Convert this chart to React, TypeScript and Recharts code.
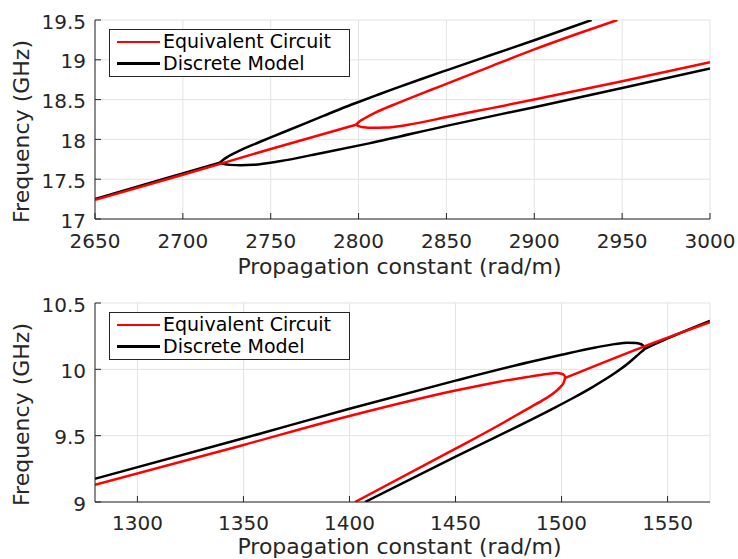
import {
  CartesianGrid,
  Label,
  Legend,
  Line,
  LineChart,
  XAxis,
  YAxis,
} from "recharts";

type Pt = [number, number];

const RED = "#ff0000";
const BLACK = "#000000";
const INK = "#262626";
const GRID = "#e3e3e3";
const FONT = "'DejaVu Sans', 'Liberation Sans', Arial, sans-serif";

// top panel: higher band
const topXTicks = [2650, 2700, 2750, 2800, 2850, 2900, 2950, 3000];
const topYTicks = [17, 17.5, 18, 18.5, 19, 19.5];

const topBlackTrunk: Pt[] = [[2650, 17.25], [2690, 17.51], [2721, 17.707]];
const topBlackUpper: Pt[] = [
  [2721, 17.707], [2723, 17.745], [2726, 17.788], [2730, 17.835], [2735, 17.888],
  [2742, 17.952], [2750, 18.025], [2760, 18.115], [2770, 18.205], [2780, 18.295],
  [2790, 18.385], [2800, 18.47], [2810, 18.553], [2820, 18.635], [2835, 18.753],
  [2850, 18.868], [2875, 19.057], [2900, 19.245], [2932.6, 19.5],
];
const topBlackLower: Pt[] = [
  [2721, 17.707], [2723.5, 17.69], [2727, 17.68], [2733, 17.675], [2740, 17.68],
  [2755, 17.725], [2777, 17.82], [2806, 17.95], [2850, 18.17], [2900, 18.405],
  [2950, 18.645], [3000, 18.89],
];
const topRedTrunk: Pt[] = [[2650, 17.24], [2700, 17.555], [2750, 17.88], [2798.5, 18.185]];
const topRedUpper: Pt[] = [
  [2798.5, 18.185], [2800.5, 18.225], [2803, 18.26], [2808.4, 18.325], [2815, 18.39],
  [2821.6, 18.45], [2830, 18.525], [2840.6, 18.617], [2850, 18.698], [2875, 18.915],
  [2900, 19.13], [2925, 19.33], [2947.3, 19.5],
];
const topRedLower: Pt[] = [
  [2798.5, 18.185], [2800.5, 18.163], [2803, 18.152], [2808, 18.145], [2815, 18.148],
  [2831, 18.195], [2851, 18.285], [2875, 18.39], [2900, 18.5], [2950, 18.73],
  [3000, 18.97],
];

// bottom panel: lower band
const botXTicks = [1300, 1350, 1400, 1450, 1500, 1550];
const botYTicks = [9, 9.5, 10, 10.5];

const botBlackUpper: Pt[] = [
  [1280, 9.175], [1350, 9.48], [1400, 9.703], [1450, 9.915], [1485, 10.055],
  [1500, 10.11], [1516, 10.165], [1525, 10.19], [1531, 10.201], [1535, 10.199],
  [1537, 10.192], [1538.4, 10.18], [1539.1, 10.168], [1539.3, 10.155],
];
const botBlackLower: Pt[] = [
  [1407.3, 9.0], [1449.8, 9.34], [1494.6, 9.693], [1505, 9.78], [1515, 9.87],
  [1525, 9.97], [1531, 10.04], [1535, 10.095], [1537.8, 10.133], [1539.3, 10.155],
];
const botBlackTrunk: Pt[] = [[1539.3, 10.155], [1550, 10.233], [1570, 10.365]];
const botRedUpper: Pt[] = [
  [1280, 9.13], [1350, 9.43], [1400, 9.648], [1450, 9.84], [1470, 9.905],
  [1485, 9.945], [1493, 9.965], [1497.5, 9.972], [1500, 9.967], [1501.3, 9.955],
  [1501.7, 9.935],
];
const botRedLower: Pt[] = [
  [1402.6, 9.0], [1449.8, 9.4], [1470, 9.575], [1485, 9.712], [1492, 9.775],
  [1496.5, 9.823], [1499.5, 9.868], [1501, 9.9], [1501.7, 9.935],
];
const botRedTrunk: Pt[] = [[1501.7, 9.935], [1537, 10.16], [1570, 10.355]];

const toRows = (pts: Pt[]) => pts.map(([x, y]) => ({ x, y }));

function XTick({ x, y, payload, gap }: any) {
  return (
    <g>
      <line x1={x} x2={x} y1={y} y2={y - 6} stroke={INK} />
      <text x={x} y={y + gap} textAnchor="middle" fill={INK} fontSize={20} fontFamily={FONT}>
        {payload.value}
      </text>
    </g>
  );
}

function YTick({ x, y, payload }: any) {
  return (
    <g>
      <line x1={x} x2={x + 6} y1={y} y2={y} stroke={INK} />
      <text x={x - 9} y={y + 8.5} textAnchor="end" fill={INK} fontSize={20} fontFamily={FONT}>
        {payload.value}
      </text>
    </g>
  );
}

function LegendBox() {
  const rows = [
    { name: "Equivalent Circuit", color: RED },
    { name: "Discrete Model", color: BLACK },
  ];
  return (
    <div
      style={{
        width: 239,
        height: 45,
        paddingTop: 1,
        border: `1px solid ${INK}`,
        background: "#fff",
        fontFamily: FONT,
        fontSize: 19,
        color: "#000",
      }}
    >
      {rows.map((r) => (
        <div key={r.name} style={{ display: "flex", alignItems: "center", height: 21.6 }}>
          <span
            style={{
              display: "inline-block",
              width: 43,
              height: 2.5,
              marginLeft: 7,
              marginRight: 3,
              background: r.color,
            }}
          />
          <span style={{ lineHeight: "21.6px" }}>{r.name}</span>
        </div>
      ))}
    </div>
  );
}

type PanelProps = {
  height: number;
  top: number;
  bottom: number;
  xDomain: [number, number];
  xTicks: number[];
  yDomain: [number, number];
  yTicks: number[];
  tickGap: number;
  titleGap: number;
  black: Pt[][];
  red: Pt[][];
};

function Panel(p: PanelProps) {
  return (
    <LineChart
      width={738}
      height={p.height}
      margin={{ top: p.top, right: 28, bottom: p.bottom, left: 0 }}
    >
      <CartesianGrid stroke={GRID} strokeWidth={1} />
      <XAxis
        type="number"
        dataKey="x"
        domain={p.xDomain}
        ticks={p.xTicks}
        allowDataOverflow
        height={50}
        tickSize={0}
        tickMargin={0}
        tickLine={false}
        axisLine={{ stroke: INK }}
        tick={<XTick gap={p.tickGap} />}
        interval={0}
      >
        <Label
          content={({ viewBox }: any) => (
            <text
              x={viewBox.x + viewBox.width / 2 - 3}
              y={viewBox.y + p.titleGap}
              textAnchor="middle"
              fill={INK}
              fontSize={22}
              fontFamily={FONT}
            >
              Propagation constant (rad/m)
            </text>
          )}
        />
      </XAxis>
      <YAxis
        type="number"
        dataKey="y"
        domain={p.yDomain}
        ticks={p.yTicks}
        allowDataOverflow
        width={95}
        tickSize={0}
        tickMargin={0}
        tickLine={false}
        axisLine={{ stroke: INK }}
        tick={<YTick />}
        interval={0}
      >
        <Label
          content={({ viewBox }: any) => {
            const cx = viewBox.x + 29;
            const cy = viewBox.y + viewBox.height / 2 + 12;
            return (
              <text
                x={cx}
                y={cy}
                transform={`rotate(-90 ${cx} ${cy})`}
                textAnchor="middle"
                fill={INK}
                fontSize={22}
                fontFamily={FONT}
              >
                Frequency (GHz)
              </text>
            );
          }}
        />
      </YAxis>
      <Legend
        layout="vertical"
        align="center"
        verticalAlign="middle"
        content={() => <LegendBox />}
        wrapperStyle={{ left: 109, top: p.top + 9, width: 241 }}
      />
      {p.black.map((b, i) => (
        <Line
          key={`b${i}`}
          data={toRows(b)}
          dataKey="y"
          type="monotone"
          stroke={BLACK}
          strokeWidth={2.5}
          dot={false}
          legendType="none"
          isAnimationActive={false}
        />
      ))}
      {p.red.map((r, i) => (
        <Line
          key={`r${i}`}
          data={toRows(r)}
          dataKey="y"
          type="monotone"
          stroke={RED}
          strokeWidth={2.5}
          dot={false}
          legendType="none"
          isAnimationActive={false}
        />
      ))}
    </LineChart>
  );
}

export default function App() {
  return (
    <div style={{ position: "absolute", left: 0, top: 0, width: 738, height: 559, background: "#fff" }}>
      <Panel
        height={280}
        top={20}
        bottom={11}
        xDomain={[2650, 3000]}
        xTicks={topXTicks}
        yDomain={[17, 19.5]}
        yTicks={topYTicks}
        tickGap={29}
        titleGap={55}
        black={[topBlackTrunk, topBlackUpper, topBlackLower]}
        red={[topRedTrunk, topRedUpper, topRedLower]}
      />
      <Panel
        height={279}
        top={23}
        bottom={7}
        xDomain={[1280, 1570]}
        xTicks={botXTicks}
        yDomain={[9, 10.5]}
        yTicks={botYTicks}
        tickGap={28}
        titleGap={52}
        black={[botBlackUpper, botBlackLower, botBlackTrunk]}
        red={[botRedUpper, botRedLower, botRedTrunk]}
      />
    </div>
  );
}
